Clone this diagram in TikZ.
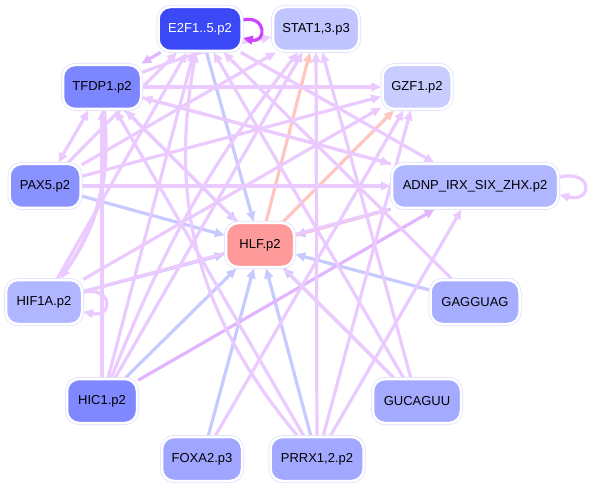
\documentclass[tikz,border=0pt]{standalone}
\usepackage{fontspec}
\setmainfont{Liberation Sans}
\usetikzlibrary{arrows.meta}
\pgfdeclarelayer{edges}
\pgfsetlayers{edges,main}
\definecolor{ringc}{HTML}{DDE0FF}
\definecolor{puc}{HTML}{EBCBFF}
\definecolor{pudc}{HTML}{E2B6FF}
\definecolor{blc}{HTML}{C6CAFF}
\definecolor{sac}{HTML}{FFC6C0}
\definecolor{loopc}{HTML}{CC44FF}
\definecolor{e2fc}{HTML}{3A48F5}
\definecolor{statc}{HTML}{C0C4FF}
\definecolor{tfdpc}{HTML}{7C86FF}
\definecolor{gzfc}{HTML}{C8CCFF}
\definecolor{paxc}{HTML}{8A92FF}
\definecolor{adnpc}{HTML}{B0B6FF}
\definecolor{hlfc}{HTML}{FF9A9A}
\definecolor{hifc}{HTML}{B0B6FF}
\definecolor{gagc}{HTML}{A8AEFF}
\definecolor{hicc}{HTML}{8088FF}
\definecolor{gucc}{HTML}{A4AAFF}
\definecolor{foxac}{HTML}{A0A6FF}
\definecolor{prrxc}{HTML}{A2A8FF}
\begin{document}
\begin{tikzpicture}[
        x=1pt, y=-1pt,
        font=\fontsize{13}{15}\selectfont, >={Triangle[length=10pt,width=8.5pt]},
        gene/.style={rounded corners=12pt, minimum height=44pt, inner xsep=6pt, draw=white, line width=2.5pt,
            preaction={draw=ringc, line width=4pt}},
        hub/.style={gene, fill=#1},
        pu/.style={->, draw=puc, line width=3.2pt},
        pud/.style={->, draw=pudc, line width=3.2pt},
        bl/.style={->, draw=blc, line width=3.2pt},
        sa/.style={->, draw=sac, line width=3.2pt}
    ]
        \useasboundingbox (0,0) rectangle (589,489);
        \node[hub=e2fc, text=white, minimum width=83pt] (e2f) at (200,29) {E2F1..5.p2};
        \node[hub=statc, minimum width=86pt] (stat) at (316,29) {STAT1,3.p3};
        \node[hub=tfdpc, minimum width=78pt] (tfdp) at (102,87) {TFDP1.p2};
        \node[hub=gzfc, minimum width=69pt] (gzf) at (417,87) {GZF1.p2};
        \node[hub=paxc, minimum width=71pt] (pax) at (45,186) {PAX5.p2};
        \node[hub=adnpc, minimum width=166pt] (adnp) at (475,186) {ADNP\_IRX\_SIX\_ZHX.p2};
        \node[hub=hlfc, minimum width=68pt] (hlf) at (260,245) {HLF.p2};
        \node[hub=hifc, minimum width=76pt] (hif) at (44,302) {HIF1A.p2};
        \node[hub=gagc, minimum width=89pt] (gag) at (475,302) {GAGGUAG};
        \node[hub=hicc, minimum width=70pt] (hic) at (102,401) {HIC1.p2};
        \node[hub=gucc, minimum width=88pt] (guc) at (417,401) {GUCAGUU};
        \node[hub=foxac, minimum width=80pt] (foxa) at (202,459) {FOXA2.p3};
        \node[hub=prrxc, minimum width=93pt] (prrx) at (317,459) {PRRX1,2.p2};
        \begin{pgfonlayer}{edges}
        \foreach \s in {tfdp,e2f,pax,hif,hic,foxa,prrx,guc,gag,adnp}
            \draw[bl] (\s) -- (hlf);
        \draw[sa] (hlf) -- (stat); \draw[sa] (hlf) -- (gzf); \draw[sa] (hlf) -- (adnp);
        \draw[pud] (e2f) -- (tfdp);
        \draw[pu] (tfdp) to[bend left=5] (stat);
        \draw[pu] (tfdp) -- (gzf); \draw[pu] (tfdp) -- (adnp); \draw[pu] (adnp) -- (tfdp);
        \draw[pu, <->] (pax) -- (tfdp);
        \draw[pu, line width=4pt] (tfdp) to[bend left=20] (hif);
        \draw[pu] (hic) -- (tfdp); \draw[pu] (hic) -- (e2f); \draw[pu] (hic) -- (stat);
        \draw[pud] (hic) -- (adnp); \draw[pu] (hic) to[bend left=8] (stat);
        \draw[pu] (pax) -- (stat); \draw[pu] (pax) -- (gzf); \draw[pu] (pax) -- (e2f);
        \draw[pu, line width=4pt] (pax) -- (adnp);
        \draw[pu] (hif) -- (e2f); \draw[pu] (hif) -- (gzf); \draw[pu] (hif) -- (adnp);
        \draw[pu] (prrx) to[bend left=25] (e2f); \draw[pu] (prrx) -- (stat); \draw[pu] (prrx) -- (gzf);
        \draw[pu] (prrx) -- (tfdp); \draw[pu] (prrx) -- (adnp);
        \draw[pu] (guc) -- (e2f); \draw[pu] (guc) -- (tfdp); \draw[pu] (guc) -- (stat);
        \draw[pu] (gag) -- (e2f); \draw[pu] (foxa) -- (gzf); \draw[pu] (e2f) -- (adnp);
        \draw[->, draw=loopc, line width=3.2pt] (e2f.12) .. controls +(24,-5) and +(24,5) .. (e2f.-12);
        \draw[pu] (hif.14) .. controls +(30,-6) and +(30,6) .. (hif.-14);
        \draw[pu] (adnp.6) .. controls +(34,-8) and +(34,8) .. (adnp.-6);
        \end{pgfonlayer}
    \end{tikzpicture}
\end{document}
